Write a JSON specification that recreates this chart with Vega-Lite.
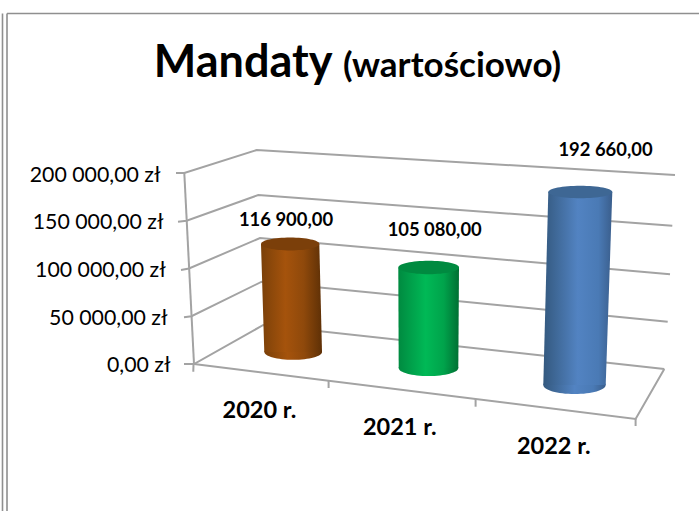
{
"$schema":"https://vega.github.io/schema/vega-lite/v6.json",
"width":699,"height":511,"padding":0,
"autosize":"none",
"background":"white",
"config":{"view":{"stroke":null},"text":{"font":"Lato"}},
"datasets":{
"window":[
{"seg":"a","i":0,"pos":2.5,"val":367000},{"seg":"a","i":1,"pos":2.5,"val":-153927},
{"seg":"b","i":0,"pos":7,"val":367000},{"seg":"b","i":1,"pos":7,"val":-153927},
{"seg":"c","i":0,"pos":7,"val":367000},{"seg":"c","i":1,"pos":699,"val":367000}
],
"frame":[
{"seg":"g200","i":0,"pos":176,"val":200000},{"seg":"g200","i":1,"pos":184.3,"val":200000},{"seg":"g200","i":2,"pos":256.7,"val":224084},{"seg":"g200","i":3,"pos":675,"val":197906},
{"seg":"g150","i":0,"pos":178,"val":149000},{"seg":"g150","i":1,"pos":186.6,"val":150000},{"seg":"g150","i":2,"pos":258.3,"val":176963},{"seg":"g150","i":3,"pos":672.3,"val":144817},
{"seg":"g100","i":0,"pos":181,"val":98500},{"seg":"g100","i":1,"pos":189,"val":100000},{"seg":"g100","i":2,"pos":260,"val":131937},{"seg":"g100","i":3,"pos":670,"val":93927},
{"seg":"g50","i":0,"pos":184,"val":49000},{"seg":"g50","i":1,"pos":191.5,"val":50000},{"seg":"g50","i":2,"pos":261.7,"val":86178},{"seg":"g50","i":3,"pos":667.7,"val":44293},
{"seg":"g0","i":0,"pos":184,"val":0},{"seg":"g0","i":1,"pos":194,"val":0},{"seg":"g0","i":2,"pos":263.3,"val":40838},{"seg":"g0","i":3,"pos":664.3,"val":-5236},
{"seg":"axis","i":0,"pos":184.3,"val":200000},{"seg":"axis","i":1,"pos":194,"val":0},
{"seg":"floor","i":0,"pos":194,"val":0},{"seg":"floor","i":1,"pos":635.6,"val":-57592},{"seg":"floor","i":2,"pos":664.3,"val":-5236},
{"seg":"t0","i":0,"pos":193.5,"val":0},{"seg":"t0","i":1,"pos":193.3,"val":-8063},
{"seg":"t1","i":0,"pos":328.6,"val":-17801},{"seg":"t1","i":1,"pos":328.6,"val":-25131},
{"seg":"t2","i":0,"pos":475.6,"val":-36649},{"seg":"t2","i":1,"pos":475.6,"val":-44712},
{"seg":"t3","i":0,"pos":635.6,"val":-57592},{"seg":"t3","i":1,"pos":635.6,"val":-64921}
],
"cylinders":[
{"year":"2020 r.","value":116900,"end":"top","pos":290.2,"left":261,"right":319.3,"val":125654},
{"year":"2020 r.","value":116900,"end":"base","pos":293.2,"left":264.3,"right":322,"val":12565},
{"year":"2021 r.","value":105080,"end":"top","pos":428.7,"left":398.3,"right":459,"val":101047},
{"year":"2021 r.","value":105080,"end":"base","pos":428.5,"left":398.7,"right":458.3,"val":-4188},
{"year":"2022 r.","value":192660,"end":"top","pos":580.3,"left":548.3,"right":612.3,"val":180105},
{"year":"2022 r.","value":192660,"end":"base","pos":574.5,"left":543.3,"right":605.7,"val":-21990}
],
"bars":[
{"year":"2020 r.","value":116900,"text":"116 900,00","pos":286,"val":150785,"catPos":259.4,"catVal":-48901},
{"year":"2021 r.","value":105080,"text":"105 080,00","pos":434.7,"val":140314,"catPos":399.8,"catVal":-66702},
{"year":"2022 r.","value":192660,"text":"192 660,00","pos":605.5,"val":224084,"catPos":553.8,"catVal":-86597}
],
"titles":[
{"text":"Mandaty","pos":153.8,"val":300523},
{"text":"(wartościowo)","pos":343,"val":300523}
]
},
"encoding":{
"x":{"field":"pos","type":"quantitative","scale":{"domain":[0,699],"nice":false,"zero":false},"axis":null},
"y":{"field":"val","type":"quantitative","scale":{"domain":[-153927,381152],"nice":false,"zero":false},
"axis":{"title":null,"orient":"left","offset":-176,"domain":false,"ticks":false,"grid":false,"values":[0,50000,100000,150000,200000],
"labelExpr":"replace(replace(format(datum.value,',.2f'),',',' '),'.',',')+' zł'",
"labelFont":"Lato","labelFontSize":21.3,"labelColor":"#000000","labelOffset":2,"labelOverlap":false,"labelFlush":false,
"labelPadding":{"condition":[{"test":"datum.value==200000","value":16},{"test":"datum.value==150000","value":13},{"test":"datum.value==100000","value":10.7},{"test":"datum.value==50000","value":9}],"value":6}}}
},
"layer":[
{"data":{"name":"window"},"mark":{"type":"line","stroke":"#8f8f8f","strokeWidth":1.6},"encoding":{"detail":{"field":"seg"},"order":{"field":"i"}}},
{"data":{"name":"frame"},"mark":{"type":"line","stroke":"#a3a3a3","strokeWidth":2},"encoding":{"detail":{"field":"seg"},"order":{"field":"i"}}},

{"data":{"name":"cylinders"},"transform":[{"filter":"datum.year=='2020 r.' && datum.end=='base'"}],"mark":{"type":"point","filled":true,"opacity":1,"size":3330,"shape":"M-1,0C-1,-.149 -.5523,-.27 0,-.27C.5523,-.27 1,-.149 1,0C1,.149 .5523,.27 0,.27C-.5523,.27 -1,.149 -1,0Z","fill":{"x1":0,"x2":1,"y1":0,"y2":0,"gradient":"linear","stops":[{"offset":0,"color":"#7a4009"},{"offset":0.4,"color":"#a5530c"},{"offset":0.7,"color":"#8f490b"},{"offset":1,"color":"#5e3006"}]}}},
{"data":{"name":"cylinders"},"transform":[{"filter":"datum.year=='2020 r.'"}],"mark":{"type":"area","orient":"horizontal","fill":{"x1":0,"x2":1,"y1":0,"y2":0,"gradient":"linear","stops":[{"offset":0,"color":"#7a4009"},{"offset":0.4,"color":"#a5530c"},{"offset":0.7,"color":"#8f490b"},{"offset":1,"color":"#5e3006"}]}},"encoding":{"x":{"field":"left","type":"quantitative"},"x2":{"field":"right"}}},
{"data":{"name":"cylinders"},"transform":[{"filter":"datum.year=='2020 r.' && datum.end=='top'"}],"mark":{"type":"point","filled":true,"opacity":1,"size":3400,"shape":"M-1,0C-1,-.121 -.5523,-.22 0,-.22C.5523,-.22 1,-.121 1,0C1,.121 .5523,.22 0,.22C-.5523,.22 -1,.121 -1,0Z","fill":"#7b3f0a"}},

{"data":{"name":"cylinders"},"transform":[{"filter":"datum.year=='2021 r.' && datum.end=='base'"}],"mark":{"type":"point","filled":true,"opacity":1,"size":3560,"shape":"M-1,0C-1,-.149 -.5523,-.27 0,-.27C.5523,-.27 1,-.149 1,0C1,.149 .5523,.27 0,.27C-.5523,.27 -1,.149 -1,0Z","fill":{"x1":0,"x2":1,"y1":0,"y2":0,"gradient":"linear","stops":[{"offset":0,"color":"#008a40"},{"offset":0.45,"color":"#00b956"},{"offset":0.75,"color":"#00a34b"},{"offset":1,"color":"#006f33"}]}}},
{"data":{"name":"cylinders"},"transform":[{"filter":"datum.year=='2021 r.'"}],"mark":{"type":"area","orient":"horizontal","fill":{"x1":0,"x2":1,"y1":0,"y2":0,"gradient":"linear","stops":[{"offset":0,"color":"#008a40"},{"offset":0.45,"color":"#00b956"},{"offset":0.75,"color":"#00a34b"},{"offset":1,"color":"#006f33"}]}},"encoding":{"x":{"field":"left","type":"quantitative"},"x2":{"field":"right"}}},
{"data":{"name":"cylinders"},"transform":[{"filter":"datum.year=='2021 r.' && datum.end=='top'"}],"mark":{"type":"point","filled":true,"opacity":1,"size":3684,"shape":"M-1,0C-1,-.121 -.5523,-.22 0,-.22C.5523,-.22 1,-.121 1,0C1,.121 .5523,.22 0,.22C-.5523,.22 -1,.121 -1,0Z","fill":"#008a40"}},

{"data":{"name":"cylinders"},"transform":[{"filter":"datum.year=='2022 r.' && datum.end=='base'"}],"mark":{"type":"point","filled":true,"opacity":1,"size":3894,"shape":"M-1,0C-1,-.16 -.5523,-.29 0,-.29C.5523,-.29 1,-.16 1,0C1,.16 .5523,.29 0,.29C-.5523,.29 -1,.16 -1,0Z","fill":{"x1":0,"x2":1,"y1":0,"y2":0,"gradient":"linear","stops":[{"offset":0,"color":"#34597f"},{"offset":0.5,"color":"#5283c2"},{"offset":0.8,"color":"#4a7ab5"},{"offset":1,"color":"#3a5e8c"}]}}},
{"data":{"name":"cylinders"},"transform":[{"filter":"datum.year=='2022 r.'"}],"mark":{"type":"area","orient":"horizontal","fill":{"x1":0,"x2":1,"y1":0,"y2":0,"gradient":"linear","stops":[{"offset":0,"color":"#34597f"},{"offset":0.5,"color":"#5283c2"},{"offset":0.8,"color":"#4a7ab5"},{"offset":1,"color":"#3a5e8c"}]}},"encoding":{"x":{"field":"left","type":"quantitative"},"x2":{"field":"right"}}},
{"data":{"name":"cylinders"},"transform":[{"filter":"datum.year=='2022 r.' && datum.end=='top'"}],"mark":{"type":"point","filled":true,"opacity":1,"size":4096,"shape":"M-1,0C-1,-.107 -.5523,-.195 0,-.195C.5523,-.195 1,-.107 1,0C1,.107 .5523,.195 0,.195C-.5523,.195 -1,.107 -1,0Z","fill":"#3e6794"}},

{"data":{"name":"bars"},"mark":{"type":"text","font":"Lato","fontWeight":"bold","fontSize":18.4,"color":"#000000","align":"center","baseline":"middle"},"encoding":{"text":{"field":"text"}}},
{"data":{"name":"bars"},"mark":{"type":"text","font":"Lato","fontWeight":"bold","fontSize":23.5,"color":"#000000","align":"center","baseline":"middle"},"encoding":{"x":{"field":"catPos","type":"quantitative"},"y":{"field":"catVal","type":"quantitative"},"text":{"field":"year"}}},
{"data":{"name":"titles"},"transform":[{"filter":"datum.text=='Mandaty'"}],"mark":{"type":"text","font":"Lato","fontWeight":"bold","fontSize":45,"color":"#000000","align":"left","baseline":"alphabetic"},"encoding":{"text":{"field":"text"}}},
{"data":{"name":"titles"},"transform":[{"filter":"datum.text!='Mandaty'"}],"mark":{"type":"text","font":"Lato","fontWeight":"bold","fontSize":35,"color":"#000000","align":"left","baseline":"alphabetic"},"encoding":{"text":{"field":"text"}}}
]
}
